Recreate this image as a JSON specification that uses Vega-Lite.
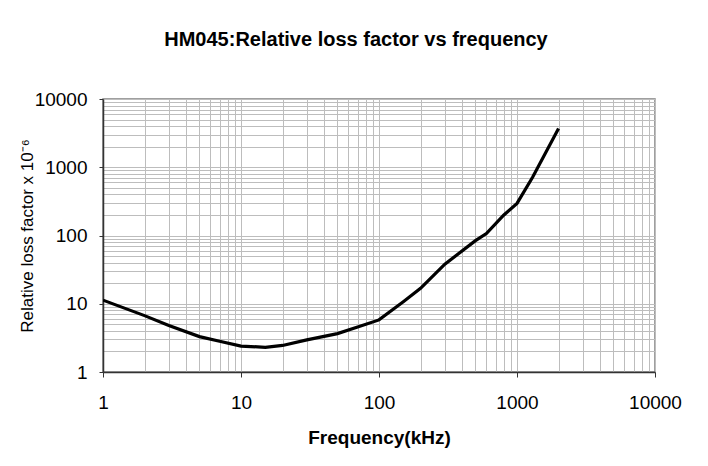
{
  "$schema": "https://vega.github.io/schema/vega-lite/v6.json",
  "width": 552,
  "height": 273,
  "autosize": {"type": "none"},
  "padding": {"left": 103, "top": 99, "right": 53, "bottom": 94},
  "background": "white",
  "title": {
    "text": "HM045:Relative loss factor vs frequency",
    "font": "Liberation Sans",
    "fontSize": 20,
    "fontWeight": "bold",
    "color": "black",
    "offset": 40,
    "dx": -23
  },
  "data": {
    "values": [
      {"frequency_khz": 1, "loss_factor": 11.3},
      {"frequency_khz": 2, "loss_factor": 6.7},
      {"frequency_khz": 3, "loss_factor": 4.8},
      {"frequency_khz": 5, "loss_factor": 3.3},
      {"frequency_khz": 7, "loss_factor": 2.82},
      {"frequency_khz": 10, "loss_factor": 2.4},
      {"frequency_khz": 15, "loss_factor": 2.3},
      {"frequency_khz": 20, "loss_factor": 2.45},
      {"frequency_khz": 30, "loss_factor": 2.95},
      {"frequency_khz": 50, "loss_factor": 3.65},
      {"frequency_khz": 70, "loss_factor": 4.55},
      {"frequency_khz": 100, "loss_factor": 5.8},
      {"frequency_khz": 150, "loss_factor": 10.7},
      {"frequency_khz": 200, "loss_factor": 16.8},
      {"frequency_khz": 300, "loss_factor": 38},
      {"frequency_khz": 500, "loss_factor": 84},
      {"frequency_khz": 600, "loss_factor": 107},
      {"frequency_khz": 800, "loss_factor": 198},
      {"frequency_khz": 1000, "loss_factor": 295},
      {"frequency_khz": 1300, "loss_factor": 720},
      {"frequency_khz": 2000, "loss_factor": 3700}
    ]
  },
  "mark": {"type": "line", "color": "black", "strokeWidth": 3.2, "clip": true},
  "encoding": {
    "x": {
      "field": "frequency_khz",
      "type": "quantitative",
      "scale": {"type": "log", "domain": [1, 10000], "nice": false},
      "axis": {
        "title": "Frequency(kHz)",
        "titleFont": "Liberation Sans",
        "titleFontSize": 19,
        "titleFontWeight": "bold",
        "titleColor": "black",
        "titlePadding": 16,
        "values": [1,2,3,4,5,6,7,8,9,10,20,30,40,50,60,70,80,90,100,200,300,400,500,600,700,800,900,1000,2000,3000,4000,5000,6000,7000,8000,9000,10000],
        "labelExpr": "indexof([1,10,100,1000,10000], datum.value) >= 0 ? format(datum.value, 'd') : ''",
        "labelOverlap": false,
        "labelBound": false,
        "labelFlush": false,
        "labelFont": "Liberation Sans",
        "labelFontSize": 19,
        "labelColor": "black",
        "labelPadding": 16,
        "tickSize": 5,
        "tickColor": "#333333",
        "tickOpacity": {"condition": {"test": "indexof([1,10,100,1000,10000], datum.value) >= 0", "value": 1}, "value": 0},
        "grid": true,
        "gridColor": "#bdbdbd",
        "gridWidth": 1,
        "domainColor": "#333333",
        "domainWidth": 1.5
      }
    },
    "y": {
      "field": "loss_factor",
      "type": "quantitative",
      "scale": {"type": "log", "domain": [1, 10000], "nice": false},
      "axis": {
        "title": "Relative loss factor x 10⁻⁶",
        "titleFont": "Liberation Sans",
        "titleFontSize": 17,
        "titleFontWeight": "normal",
        "titleColor": "black",
        "titlePadding": -2,
        "values": [1,2,3,4,5,6,7,8,9,10,20,30,40,50,60,70,80,90,100,200,300,400,500,600,700,800,900,1000,2000,3000,4000,5000,6000,7000,8000,9000,10000],
        "labelExpr": "indexof([1,10,100,1000,10000], datum.value) >= 0 ? format(datum.value, 'd') : ''",
        "labelOverlap": false,
        "labelBound": false,
        "labelFlush": false,
        "labelFont": "Liberation Sans",
        "labelFontSize": 19,
        "labelColor": "black",
        "labelPadding": 12,
        "tickSize": 4,
        "tickColor": "#333333",
        "tickOpacity": {"condition": {"test": "indexof([1,10,100,1000,10000], datum.value) >= 0", "value": 1}, "value": 0},
        "grid": true,
        "gridColor": "#bdbdbd",
        "gridWidth": 1,
        "domainColor": "#333333",
        "domainWidth": 1.5
      }
    }
  },
  "config": {
    "view": {"stroke": "#808080", "strokeWidth": 1.5}
  }
}
